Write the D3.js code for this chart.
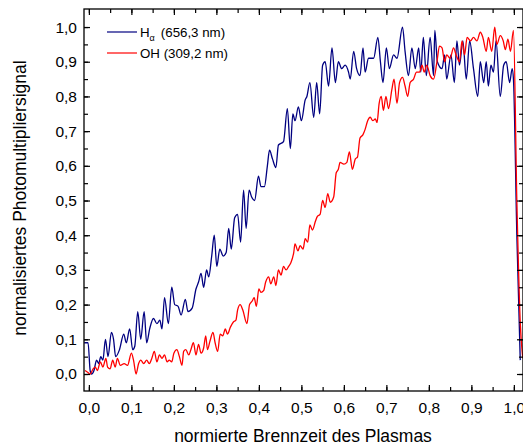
<!DOCTYPE html>
<meta charset="utf-8">
<script src="https://d3js.org/d3.v7.min.js"></script>
<style>
	body{
		margin:0;
		background:#fff;
		font-family: Arial, 'Liberation Sans', sans-serif;
	}
</style>
<div id="chart"></div>
<script>

// H-alpha (656,3 nm)
var haX = [-0.011,-0.002,0.003,0.006,0.012,0.018,0.023,0.028,0.033,0.039,0.045,0.053,0.058,0.063,0.072,0.082,0.088,0.096,0.103,0.108,0.115,0.122,0.130,0.136,0.143,0.152,0.160,0.167,0.172,0.178,0.187,0.195,0.202,0.210,0.217,0.227,0.233,0.243,0.252,0.258,0.264,0.270,0.277,0.282,0.289,0.295,0.301,0.308,0.316,0.323,0.329,0.335,0.343,0.350,0.357,0.364,0.370,0.377,0.383,0.390,0.399,0.405,0.413,0.420,0.425,0.432,0.440,0.446,0.458,0.467,0.474,0.480,0.485,0.493,0.500,0.509,0.513,0.520,0.529,0.536,0.543,0.550,0.556,0.564,0.572,0.580,0.587,0.595,0.603,0.611,0.615,0.623,0.630,0.638,0.645,0.650,0.658,0.670,0.680,0.686,0.692,0.700,0.707,0.717,0.725,0.738,0.744,0.752,0.760,0.768,0.776,0.781,0.787,0.794,0.803,0.811,0.814,0.820,0.831,0.837,0.842,0.852,0.860,0.866,0.872,0.880,0.888,0.896,0.905,0.915,0.921,0.929,0.935,0.940,0.946,0.952,0.958,0.968,0.976,0.982,0.990,0.996,0.999,1.007,1.015]
var haY = [0.09,0.09,0.01,0.0,0.01,0.04,0.03,0.05,0.04,0.10,0.05,0.12,0.10,0.05,0.07,0.115,0.09,0.13,0.07,0.08,0.18,0.10,0.18,0.09,0.13,0.16,0.145,0.155,0.13,0.22,0.145,0.25,0.20,0.195,0.17,0.215,0.18,0.19,0.245,0.265,0.29,0.25,0.30,0.28,0.34,0.40,0.31,0.36,0.34,0.35,0.42,0.36,0.45,0.46,0.38,0.53,0.42,0.53,0.51,0.50,0.57,0.54,0.54,0.60,0.645,0.62,0.595,0.66,0.67,0.765,0.65,0.75,0.73,0.77,0.73,0.79,0.80,0.84,0.74,0.84,0.75,0.89,0.90,0.83,0.94,0.84,0.90,0.88,0.89,0.87,0.85,0.93,0.88,0.86,0.94,0.87,0.91,0.91,0.97,0.90,0.84,0.94,0.88,0.92,0.91,1.00,0.93,0.86,0.94,0.88,0.94,0.87,0.97,0.86,0.97,0.86,0.99,0.90,0.88,0.92,0.85,0.92,0.84,0.96,0.89,0.96,0.85,0.96,0.88,0.80,0.90,0.84,0.90,0.83,0.89,0.87,0.96,0.80,0.89,0.90,0.84,0.88,0.85,0.40,0.04]

// OH (309,2 nm)
var ohX = [-0.009,-0.003,0.003,0.010,0.015,0.020,0.027,0.033,0.040,0.044,0.050,0.056,0.062,0.067,0.074,0.083,0.091,0.100,0.105,0.111,0.117,0.122,0.129,0.136,0.142,0.148,0.154,0.160,0.166,0.172,0.178,0.184,0.189,0.195,0.200,0.207,0.213,0.219,0.223,0.228,0.235,0.240,0.246,0.252,0.258,0.264,0.270,0.275,0.279,0.285,0.292,0.297,0.303,0.309,0.315,0.321,0.326,0.333,0.340,0.346,0.350,0.356,0.362,0.372,0.378,0.384,0.389,0.394,0.400,0.405,0.411,0.416,0.423,0.428,0.435,0.440,0.446,0.452,0.458,0.464,0.470,0.475,0.482,0.485,0.492,0.497,0.504,0.509,0.515,0.520,0.526,0.533,0.538,0.544,0.550,0.556,0.562,0.568,0.576,0.582,0.587,0.591,0.600,0.607,0.613,0.620,0.627,0.632,0.638,0.645,0.650,0.656,0.662,0.668,0.674,0.678,0.683,0.688,0.693,0.699,0.705,0.713,0.718,0.725,0.731,0.738,0.744,0.750,0.756,0.764,0.771,0.778,0.784,0.789,0.795,0.803,0.811,0.819,0.825,0.831,0.837,0.842,0.850,0.858,0.864,0.872,0.878,0.884,0.890,0.898,0.905,0.913,0.921,0.927,0.935,0.940,0.948,0.955,0.960,0.968,0.975,0.980,0.986,0.992,0.999,1.007,1.015,1.021]
var ohY = [0.01,0.005,0.0,0.015,0.02,0.01,0.035,0.02,0.045,0.02,0.015,0.04,0.02,0.045,0.025,0.03,0.025,0.06,0.04,0.0,0.03,0.04,0.03,0.04,0.03,0.045,0.065,0.035,0.055,0.045,0.055,0.035,0.04,0.035,0.06,0.07,0.05,0.025,0.065,0.07,0.055,0.07,0.09,0.055,0.085,0.06,0.075,0.11,0.07,0.095,0.12,0.09,0.065,0.115,0.11,0.13,0.115,0.135,0.15,0.155,0.185,0.20,0.185,0.145,0.20,0.21,0.22,0.195,0.245,0.235,0.24,0.265,0.28,0.26,0.28,0.255,0.30,0.285,0.31,0.30,0.31,0.32,0.35,0.375,0.355,0.37,0.36,0.39,0.38,0.43,0.415,0.44,0.455,0.46,0.50,0.48,0.52,0.495,0.51,0.58,0.59,0.61,0.605,0.61,0.64,0.59,0.62,0.625,0.68,0.69,0.705,0.73,0.74,0.73,0.735,0.725,0.78,0.80,0.76,0.80,0.765,0.82,0.85,0.78,0.84,0.855,0.83,0.80,0.84,0.85,0.87,0.87,0.89,0.87,0.89,0.86,0.85,0.90,0.945,0.94,0.90,0.92,0.91,0.94,0.92,0.90,0.96,0.92,0.97,0.96,0.97,0.96,0.985,0.97,0.93,0.97,0.93,1.00,0.95,0.975,0.96,0.935,0.965,0.93,0.99,0.50,0.15,0.045]

var xTicks = [0,0.1,0.2,0.3,0.4,0.5,0.6,0.7,0.8,0.9,1.0]
var yTicks = [0,0.1,0.2,0.3,0.4,0.5,0.6,0.7,0.8,0.9,1.0]
var seriesNames = ["H", "OH (309,2 nm)"]
var seriesColors = ["#000080", "#ff0000"]

var w = 523, h = 445
var mLeft = 84, mTop = 9, mRight = 523, mBottom = 391

var svg = d3.select("#chart").append("svg").attr("width", w).attr("height", h)

var x = d3.scaleLinear().domain([-0.0115, 1.0215]).range([mLeft, mRight])
var y = d3.scaleLinear().domain([-0.049, 1.052]).range([mBottom, mTop])

var fmt = function(d){ return d3.format(".1f")(d).replace(".", ",") }

// clip for lines
svg.append("clipPath").attr("id","clip").append("rect")
	.attr("x", mLeft).attr("y", mTop).attr("width", mRight-mLeft).attr("height", mBottom-mTop)

var line = d3.line().x(function(d){return x(d[0])}).y(function(d){return y(d[1])}).curve(d3.curveMonotoneX)

var g = svg.append("g").attr("clip-path","url(#clip)")
g.append("path").datum(d3.zip(haX, haY))
	.attr("d", line).attr("fill","none").attr("stroke", seriesColors[0]).attr("stroke-width",1.3)
g.append("path").datum(d3.zip(ohX, ohY))
	.attr("d", line).attr("fill","none").attr("stroke", seriesColors[1]).attr("stroke-width",1.3)

// minor ticks every 0.05
var xMinor = d3.range(0, 21).map(function(i){return i*0.05})
var yMinor = d3.range(0, 21).map(function(i){return i*0.05})

// axes, ticks pointing inward
svg.append("g").attr("transform","translate(0,"+mBottom+")")
	.call(d3.axisBottom(x).tickValues(xMinor).tickSize(-4).tickFormat(""))
svg.append("g").attr("transform","translate(0,"+mBottom+")")
	.call(d3.axisBottom(x).tickValues(xTicks).tickSize(-6).tickPadding(11).tickFormat(fmt))
svg.append("g").attr("transform","translate(0,"+mTop+")")
	.call(d3.axisTop(x).tickValues(xMinor).tickSize(-4).tickFormat(""))
svg.append("g").attr("transform","translate(0,"+mTop+")")
	.call(d3.axisTop(x).tickValues(xTicks).tickSize(-6).tickFormat(""))
svg.append("g").attr("transform","translate("+mLeft+",0)")
	.call(d3.axisLeft(y).tickValues(yMinor).tickSize(-4).tickFormat(""))
svg.append("g").attr("transform","translate("+mLeft+",0)")
	.call(d3.axisLeft(y).tickValues(yTicks).tickSize(-6).tickPadding(7).tickFormat(fmt))
svg.append("g").attr("transform","translate("+mRight+",0)")
	.call(d3.axisRight(y).tickValues(yMinor).tickSize(-4).tickFormat(""))
svg.append("g").attr("transform","translate("+mRight+",0)")
	.call(d3.axisRight(y).tickValues(yTicks).tickSize(-6).tickFormat(""))

svg.selectAll(".domain").remove()
svg.selectAll(".tick line").attr("stroke","#000").attr("stroke-width",1.2)
svg.selectAll(".tick text").attr("fill","#000").style("font-size","15.5px").style("font-family","Arial, 'Liberation Sans', sans-serif")

svg.append("rect").attr("x", mLeft).attr("y", mTop).attr("width", mRight-mLeft).attr("height", mBottom-mTop)
	.attr("fill","none").attr("stroke","#000").attr("stroke-width",1.3)

// axis titles
svg.append("text").attr("x", 303).attr("y", 442).attr("text-anchor","middle")
	.style("font-size","17.5px").text("normierte Brennzeit des Plasmas")
svg.append("text").attr("transform","translate(26,198) rotate(-90)").attr("text-anchor","middle")
	.style("font-size","17.5px").text("normalisiertes Photomultipliersignal")

// legend
var leg = svg.append("g").style("font-size","13.3px")
leg.append("line").attr("x1",107).attr("x2",137).attr("y1",32).attr("y2",32).attr("stroke",seriesColors[0]).attr("stroke-width",1.2)
var t1 = leg.append("text").attr("x",140).attr("y",37)
t1.append("tspan").text(seriesNames[0])
t1.append("tspan").attr("dy",4).style("font-size","9px").text("\u03b1")
t1.append("tspan").attr("dy",-4).attr("dx",6).text("(656,3 nm)")
leg.append("line").attr("x1",107).attr("x2",137).attr("y1",53).attr("y2",53).attr("stroke",seriesColors[1]).attr("stroke-width",1.2)
leg.append("text").attr("x",140).attr("y",58).text(seriesNames[1])

</script>
